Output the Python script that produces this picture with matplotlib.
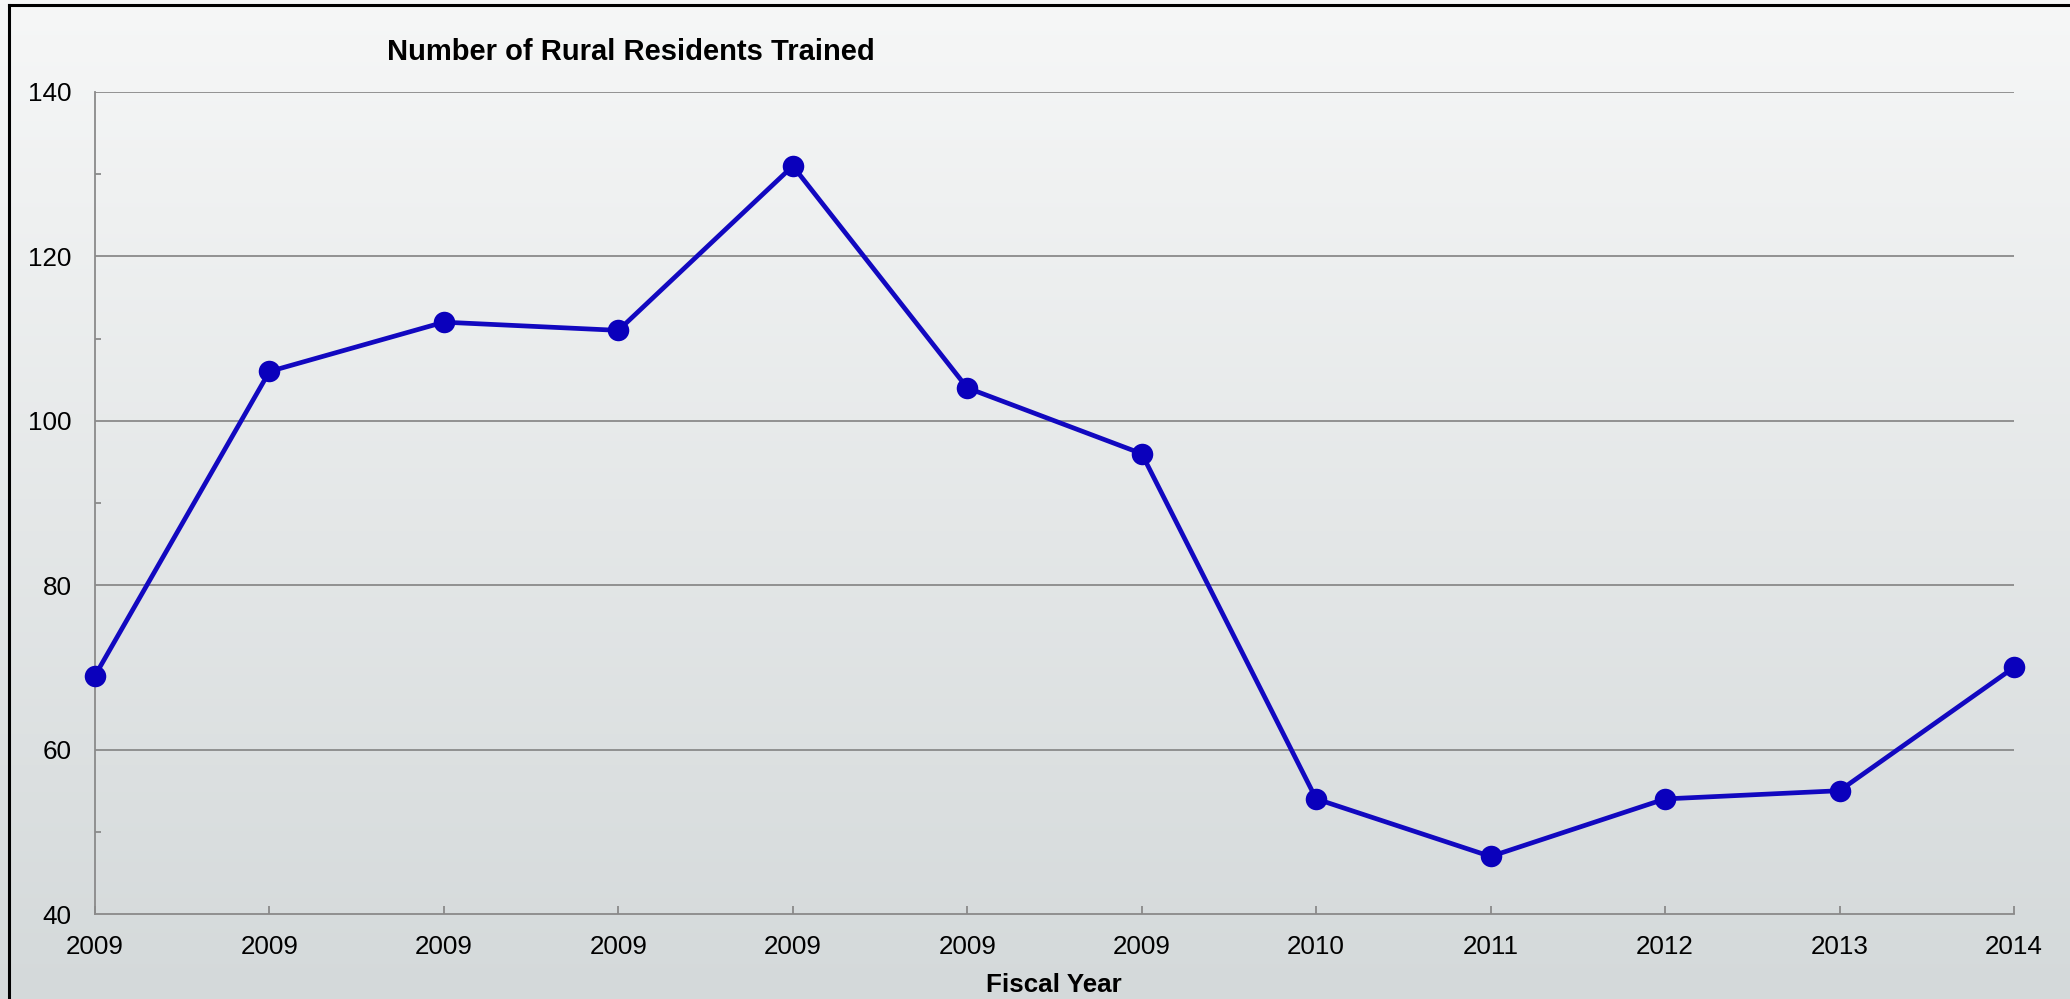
import matplotlib
matplotlib.use("Agg")
import matplotlib.pyplot as plt
import numpy as np
from matplotlib.lines import Line2D
from matplotlib.ticker import MultipleLocator

categories = ["2009", "2009", "2009", "2009", "2009", "2009", "2009",
              "2010", "2011", "2012", "2013", "2014"]
values = [69, 106, 112, 111, 131, 104, 96, 54, 47, 54, 55, 70]
title = "Number of Rural Residents Trained"
xlabel = "Fiscal Year"

plt.rcParams['font.family'] = ['Liberation Sans', 'DejaVu Sans']

W, H = 2070, 999
fig = plt.figure(figsize=(W / 100, H / 100), dpi=100)

# gradient background
bg = fig.add_axes([0, 0, 1, 1], zorder=-10)
grad = np.linspace(0, 1, 256).reshape(-1, 1)
top = np.array([0xf6, 0xf7, 0xf7]) / 255
bot = np.array([0xd4, 0xd9, 0xda]) / 255
img = top[None, None, :] * (1 - grad[:, :, None]) + bot[None, None, :] * grad[:, :, None]
bg.imshow(img, aspect='auto', extent=[0, 1, 0, 1], origin='upper')
bg.set_axis_off()

# border lines (screenshot frame)
fig.add_artist(Line2D([9 / W, 1], [1 - 5 / H, 1 - 5 / H], color='black', lw=2.2, transform=fig.transFigure))
fig.add_artist(Line2D([9 / W, 9 / W], [0, 1 - 5 / H], color='black', lw=2.2, transform=fig.transFigure))

ax = fig.add_axes([95 / W, 1 - 914 / H, (2014 - 95) / W, (914 - 92) / H])
ax.set_facecolor('none')
x = np.arange(len(values))
ax.plot(x, values, color='#1208c0', lw=3.4, marker='o', markersize=15.5,
        markerfacecolor='#0a00bc', markeredgecolor='#0a00bc', markeredgewidth=0,
        zorder=5, clip_on=False)

ax.set_xlim(0, len(values) - 1)
ax.set_ylim(40, 140)
ax.set_yticks(np.arange(40, 141, 20))
ax.yaxis.set_minor_locator(MultipleLocator(10))
ax.set_xticks(x)
ax.set_xticklabels(categories)

grid_c = '#8a8a8a'
for yv in np.arange(60, 141, 20):
    ax.axhline(yv, color=grid_c, lw=1.3, zorder=1)

for s in ['top', 'right']:
    ax.spines[s].set_visible(False)
for s in ['left', 'bottom']:
    ax.spines[s].set_color(grid_c)
    ax.spines[s].set_linewidth(1.3)

ax.tick_params(axis='x', which='major', direction='in', length=6, width=1.3, color=grid_c,
               labelsize=18.7, pad=15)
ax.tick_params(axis='y', which='major', direction='in', length=0, labelsize=18.7, pad=17)
ax.tick_params(axis='y', which='minor', direction='in', length=4, width=1.3, color=grid_c)

fig.text(631 / W, 1 - 52 / H, title, ha='center', va='center', fontsize=21, fontweight='bold')
fig.text(1054 / W, 1 - 985 / H, xlabel, ha='center', va='center', fontsize=18.7, fontweight='bold')

fig.savefig("out.png", dpi=100)
